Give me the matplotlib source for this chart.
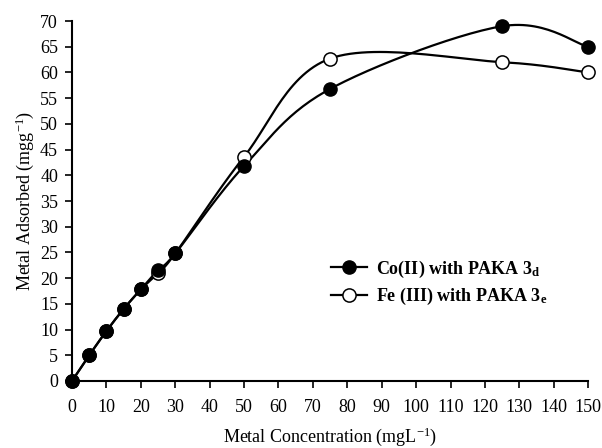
import numpy as np
import matplotlib
matplotlib.use('Agg')
import matplotlib.pyplot as plt

plt.rcParams['font.family'] = 'Liberation Serif'
plt.rcParams['mathtext.fontset'] = 'custom'
plt.rcParams['mathtext.rm'] = 'Liberation Serif'
plt.rcParams['mathtext.bf'] = 'Liberation Serif:bold'
plt.rcParams['mathtext.it'] = 'Liberation Serif:italic'

# data
co_x = [0, 5, 10, 15, 20, 25, 30, 50, 75, 125, 150]
co_y = [0, 5.0, 9.7, 14.0, 17.8, 21.6, 24.8, 41.8, 56.8, 69.0, 65.0]
fe_x = [0, 5, 10, 15, 20, 25, 30, 50, 75, 125, 150]
fe_y = [0, 5.0, 9.7, 14.0, 17.8, 21.0, 24.8, 43.6, 62.7, 62.0, 60.0]


def smooth(x, y, n=30):
    # excel style smoothed line (catmull-rom bezier)
    x = np.asarray(x, float)
    y = np.asarray(y, float)
    px = np.concatenate([[x[0]], x, [x[-1]]])
    py = np.concatenate([[y[0]], y, [y[-1]]])
    t = np.linspace(0, 1, n)
    xs, ys = [], []
    for i in range(1, len(px) - 2):
        p0 = np.array([px[i], py[i]])
        p3 = np.array([px[i + 1], py[i + 1]])
        c1 = p0 + (np.array([px[i + 1], py[i + 1]]) - np.array([px[i - 1], py[i - 1]])) / 6
        c2 = p3 - (np.array([px[i + 2], py[i + 2]]) - np.array([px[i], py[i]])) / 6
        b = ((1 - t) ** 3)[:, None] * p0 + (3 * (1 - t) ** 2 * t)[:, None] * c1 \
            + (3 * (1 - t) * t ** 2)[:, None] * c2 + (t ** 3)[:, None] * p3
        xs.extend(b[:, 0])
        ys.extend(b[:, 1])
    return xs, ys


fig = plt.figure(figsize=(6.02, 4.48), dpi=100)
ax = fig.add_axes([0.1196, 0.1496, 0.8574, 0.8034])

sx, sy = smooth(co_x, co_y)
ax.plot(sx, sy, color='black', lw=1.6, clip_on=False)
sx, sy = smooth(fe_x, fe_y)
ax.plot(sx, sy, color='black', lw=1.6, clip_on=False)

ax.plot(fe_x, fe_y, 'o', ms=9.5, mfc='white', mec='black', mew=1.1, clip_on=False, zorder=3)
ax.plot(co_x, co_y, 'o', ms=9.5, mfc='black', mec='black', clip_on=False, zorder=4)

# legend handles
ax.plot([], [], '-o', color='black', ms=9.5, lw=1.6, label=r'Co(II) with PAKA 3$_\mathbf{d}$')
ax.plot([], [], '-o', color='black', ms=9.5, lw=1.6, mfc='white', mew=1.1,
        label=r'Fe (III) with PAKA 3$_\mathbf{e}$')
handles, labels = ax.get_legend_handles_labels()
ax.legend(handles, labels, loc='upper left', bbox_to_anchor=(0.47, 0.385), frameon=False,
          prop={'weight': 'bold', 'size': 13}, handlelength=2.0, handletextpad=0.5,
          labelspacing=0.35)

ax.set_xlim(0, 150)
ax.set_ylim(0, 70)
ax.set_xticks(range(0, 151, 10))
ax.set_yticks(range(0, 71, 5))
ax.spines['top'].set_visible(False)
ax.spines['right'].set_visible(False)
ax.spines['left'].set_linewidth(1.5)
ax.spines['bottom'].set_linewidth(1.5)
ax.tick_params(labelsize=13, width=1.2, length=5)
ax.tick_params(axis='x', pad=8)
ax.tick_params(axis='y', pad=5)
ax.set_xlabel(r'Metal Concentration (mgL$^{\mathrm{-1}}$)', fontsize=13, labelpad=7)
ax.set_ylabel(r'Metal Adsorbed (mgg$^{\mathrm{-1}}$)', fontsize=13, labelpad=3)

fig.savefig('out.png', dpi=100)
